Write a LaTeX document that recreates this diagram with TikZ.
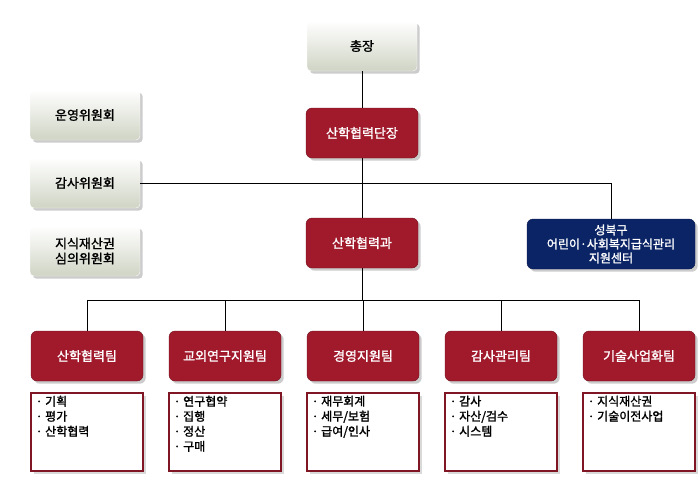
\documentclass[tikz,border=0pt]{standalone}
\usepackage{fontspec}
\setmainfont{Noto Sans CJK KR}[AutoFakeBold=1.5]
\usetikzlibrary{shadows}
\definecolor{teamred}{HTML}{A01A2C}
\definecolor{centerblue}{HTML}{0B2466}
\definecolor{boxgray}{HTML}{CFD4C4}
\tikzset{
	every node/.style={font=\fontsize{13}{15}\selectfont\bfseries},
	gray box/.style={draw=white, rounded corners=4pt, top color=white, bottom color=boxgray,
		minimum width=110pt, minimum height=50pt, align=center, drop shadow={opacity=0.4}},
	red box/.style={draw=teamred!70!black, rounded corners=6pt, fill=teamred, text=white,
		minimum width=112pt, minimum height=50pt, align=center, drop shadow={opacity=0.4}},
	blue box/.style={red box, fill=centerblue, draw=centerblue!70!black, minimum width=168pt},
	list box/.style={draw=teamred!80!black, line width=1.5pt, fill=white,
		minimum width=112pt, minimum height=78pt, drop shadow={opacity=0.3}},
	list text/.style={anchor=north west, align=left, font=\fontsize{12}{15}\selectfont\bfseries},
	link/.style={line width=0.9pt}
}
\begin{document}
\begin{tikzpicture}[x=1pt, y=-1pt]
	\useasboundingbox (0,0) rectangle (700,500);
	
	\node [gray box](president) at (362,46){총장};
	\node [red box](director) at (362,133){산학협력단장};
	\node [red box](office) at (362,243){산학협력과};
	\node [blue box, font=\fontsize{12}{14}\selectfont\bfseries](center) at (611,244){성북구\\어린이·사회복지급식관리\\지원센터};
	
	\foreach \c [count=\y] in {운영위원회, 감사위원회, {지식재산권\\심의위원회}}
	\node [gray box](comm-\y) at (85,47+\y*68){\c};
	
	\coordinate (branch) at (center.north |- comm-2.east);
	\coordinate (split) at (362,300);
	
	\draw[link](president) -- (director);
	\draw[link](director) -- (office);
	\draw[link](comm-2.east) -- (branch) -- (center.north);
	\draw[link](office) -- (split);
	
	\foreach \t/\items [count=\i from 0] in {
		산학협력팀/{· 기획\\· 평가\\· 산학협력},
		교외연구지원팀/{· 연구협약\\· 집행\\· 정산\\· 구매},
		경영지원팀/{· 재무회계\\· 세무/보험\\· 급여/인사},
		감사관리팀/{· 감사\\· 자산/검수\\· 시스템},
		기술사업화팀/{· 지식재산권\\· 기술이전사업}}
	{
		\node [red box](team-\i) at (87+\i*138,356){\t};
		\node [list box](list-\i) at (87+\i*138,432){};
		\node [list text](items-\i) at ([shift={(2,0)}]list-\i.north west){\items};
		\draw[link](team-\i.north |- split) -- (team-\i.north);
	}
	\draw[link](team-0.north |- split) -- (team-4.north |- split);
\end{tikzpicture}
\end{document}
